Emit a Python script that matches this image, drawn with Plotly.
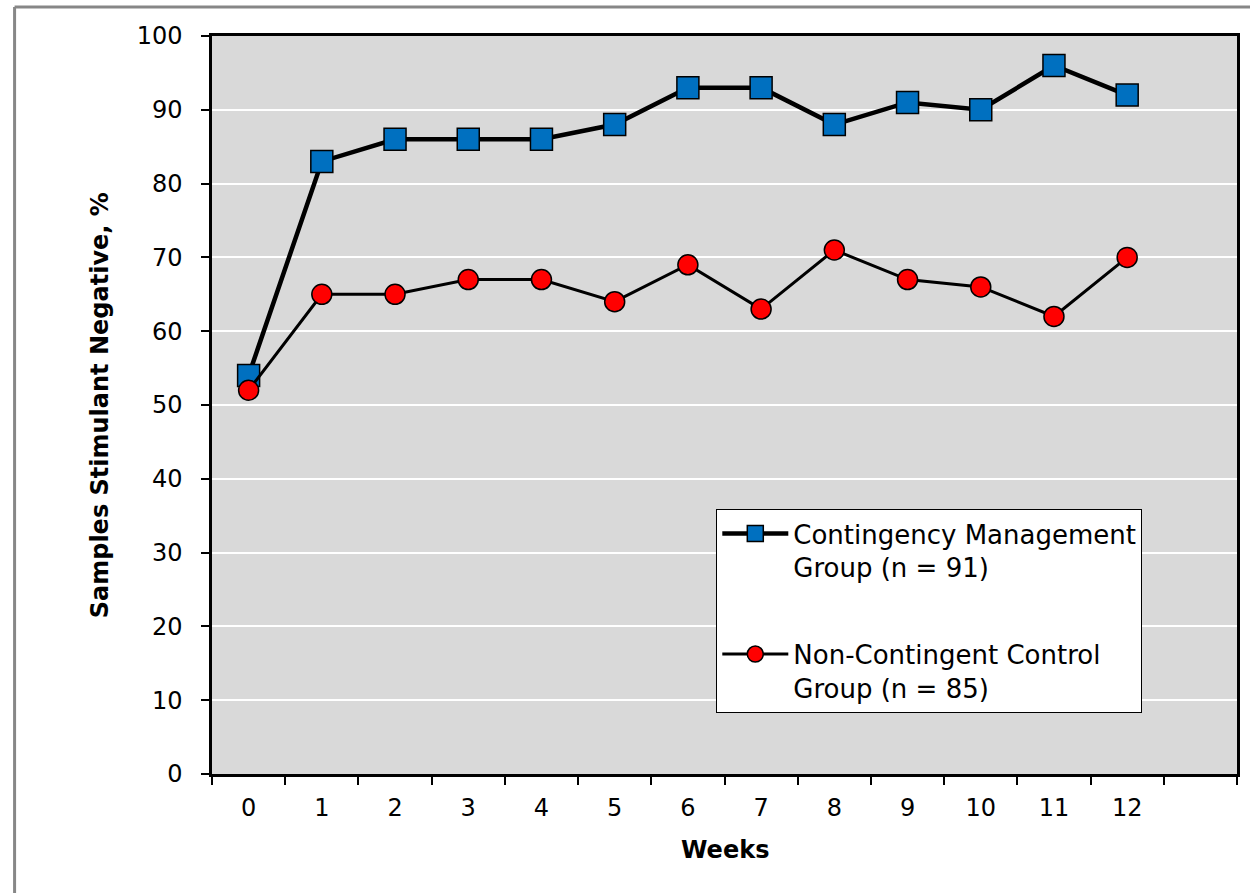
import plotly.graph_objects as go

weeks = list(range(13))
week_labels = [str(w) for w in weeks]
cm_values = [54, 83, 86, 86, 86, 88, 93, 93, 88, 91, 90, 96, 92]
ctrl_values = [52, 65, 65, 67, 67, 64, 69, 63, 71, 67, 66, 62, 70]
cm_name = "Contingency Management<br>Group (n = 91)"
ctrl_name = "Non-Contingent Control<br>Group (n = 85)"
y_ticks = list(range(0, 101, 10))

FONT = "DejaVu Sans"

fig = go.Figure()
fig.add_trace(go.Scatter(
    x=weeks, y=cm_values, mode="lines+markers", name=cm_name,
    legendgroup="cm",
    line=dict(color="black", width=4.5),
    marker=dict(symbol="square", size=22, color="#0070C0",
                line=dict(color="black", width=1.5)),
))
fig.add_trace(go.Scatter(
    x=weeks, y=ctrl_values, mode="lines+markers", name=ctrl_name,
    legendgroup="ctrl",
    line=dict(color="black", width=3),
    marker=dict(symbol="circle", size=20, color="#FF0000",
                line=dict(color="black", width=1.5)),
))

fig.update_layout(
    width=1250, height=893,
    margin=dict(l=212, r=10, t=36, b=119),
    paper_bgcolor="white",
    plot_bgcolor="#D9D9D9",
    font=dict(family=FONT, color="black", size=24),
    showlegend=True,
    legend=dict(
        x=0.492, y=0.359, xanchor="left", yanchor="top",
        bgcolor="white", bordercolor="black", borderwidth=1,
        font=dict(family=FONT, size=26, color="black"),
        valign="top", traceorder="grouped", tracegroupgap=50,
        itemwidth=66,
    ),
    xaxis=dict(
        range=[-0.5, 13.5],
        tickmode="array", tickvals=weeks, ticktext=week_labels,
        ticks="", showgrid=False, zeroline=False,
        showline=True, linecolor="black", linewidth=2.5, mirror=True,
        tickfont=dict(family=FONT, size=24, color="black"),
        ticklabelstandoff=10,
        minor=dict(tick0=-0.5, dtick=1, ticks="outside", ticklen=8,
                   tickwidth=1.5, tickcolor="black", showgrid=False),
    ),
    yaxis=dict(
        range=[0, 100],
        tickmode="array", tickvals=y_ticks,
        ticks="outside", ticklen=8, tickwidth=1.5, tickcolor="black",
        showgrid=True, gridcolor="white", gridwidth=2,
        zeroline=False,
        showline=True, linecolor="black", linewidth=2.5, mirror=True,
        tickfont=dict(family=FONT, size=24, color="black"),
        ticklabelstandoff=14,
    ),
)

fig.add_annotation(
    text="<b>Samples Stimulant Negative, %</b>", textangle=-90,
    xref="paper", yref="paper", x=-0.109, y=0.5,
    xanchor="center", yanchor="middle", showarrow=False,
    font=dict(family=FONT, size=24, color="black"),
)
fig.add_annotation(
    text="<b>Weeks</b>",
    xref="paper", yref="paper", x=0.5, y=-0.103,
    xanchor="center", yanchor="middle", showarrow=False,
    font=dict(family=FONT, size=24, color="black"),
)

# outer chart-area frame (left and top edges visible)
fig.add_shape(type="line", xref="paper", yref="paper",
              x0=-0.1926, x1=-0.1926, y0=-0.2, y1=1.0393,
              line=dict(color="#878787", width=3))
fig.add_shape(type="line", xref="paper", yref="paper",
              x0=-0.1926, x1=1.02, y0=1.0393, y1=1.0393,
              line=dict(color="#878787", width=3))

fig.write_html("out.html")
